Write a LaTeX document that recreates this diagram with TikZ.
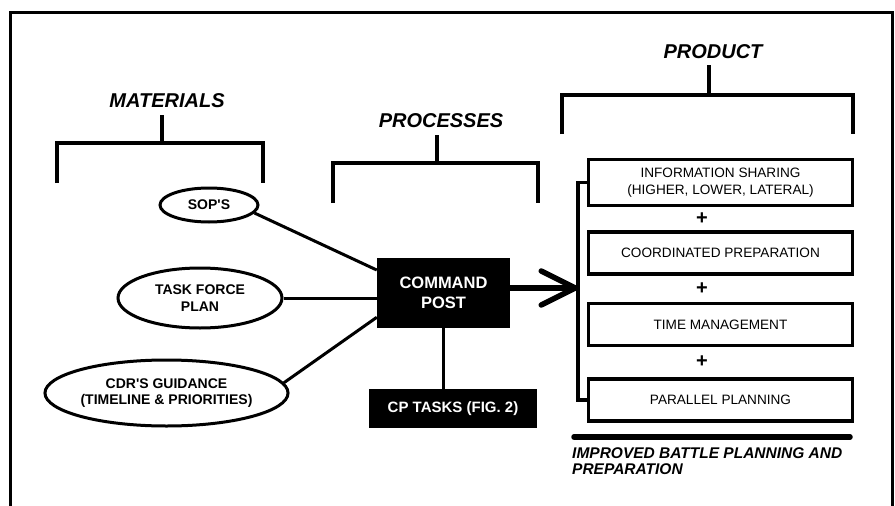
\documentclass[tikz,border=0pt]{standalone}
\usepackage{fontspec}
\setmainfont{Liberation Sans}
\usetikzlibrary{shapes.geometric,arrows.meta}
\begin{document}
\begin{tikzpicture}[x=1pt,y=-1pt,
  heading/.style={font=\fontsize{20}{21}\selectfont\bfseries\itshape, inner sep=0pt},
  bracket/.style={line width=4.5pt},
  oval/.style={ellipse, draw, line width=3pt, fill=white, inner sep=0pt, align=center,
    font=\fontsize{14}{16.5}\selectfont\bfseries},
  blackbox/.style={rectangle, fill=black, text=white, inner sep=0pt, align=center},
  prodbox/.style={rectangle, draw, line width=3.5pt, minimum width=264pt, minimum height=42pt,
    inner sep=0pt, align=center, font=\fontsize{13.6}{17}\selectfont},
  plus/.style={font=\fontsize{20}{20}\selectfont\bfseries, inner sep=0pt},
  link/.style={line width=3pt}]
\useasboundingbox (0,0) rectangle (895,506);
\fill[white] (0,0) rectangle (895,506);
\clip (0,0) rectangle (895,506);

% outer frame (open at the bottom)
\draw[line width=3pt] (10,520) -- (10,12) -- (892,12) -- (892,520);

% column headings with their brackets
\node[heading] (hmat) at (167,101) {MATERIALS};
\node[heading] (hproc) at (441,121) {PROCESSES};
\node[heading] (hprod) at (713,52) {PRODUCT};

\draw[bracket] (57,183) -- (57,143) -- (263,143) -- (263,183);
\draw[bracket] (162,143) -- (162,115);
\draw[bracket] (333,203) -- (333,163) -- (538,163) -- (538,203);
\draw[bracket] (437,163) -- (437,135);
\draw[bracket] (562,134) -- (562,95) -- (853,95) -- (853,134);
\draw[bracket] (709,95) -- (709,65);

% materials
\node[oval, minimum width=98pt, minimum height=34pt] (sop) at (209,205) {SOP\textquotesingle S};
\node[oval, minimum width=164pt, minimum height=60pt] (tfp) at (200,298) {TASK FORCE\\PLAN};
\node[oval, minimum width=243pt, minimum height=66pt] (cdr) at (166.5,393)
  {CDR\textquotesingle S GUIDANCE\\(TIMELINE \& PRIORITIES)};

% processes
\node[blackbox, minimum width=133pt, minimum height=70pt,
  font=\fontsize{16.5}{20}\selectfont\bfseries] (cp) at (443.5,293) {COMMAND\\POST};
\node[blackbox, minimum width=168pt, minimum height=39pt,
  font=\fontsize{15}{18}\selectfont\bfseries] (tasks) at (453,408.5) {CP TASKS (FIG. 2)};

\draw[link] (sop.-10) -- (cp.161);
\draw[link] (tfp.east) -- (tfp.east -| cp.west);
\draw[link] (cdr.5) -- (cp.200);
\draw[line width=2.2pt] (cp.south) -- (tasks.north -| cp.south);

% products
\node[prodbox, minimum height=46pt] (p1) at (720.5,182.5) {INFORMATION SHARING\\(HIGHER, LOWER, LATERAL)};
\node[prodbox] (p2) at (720.5,253) {COORDINATED PREPARATION};
\node[prodbox] (p3) at (720.5,324.5) {TIME MANAGEMENT};
\node[prodbox] (p4) at (720.5,400) {PARALLEL PLANNING};
\node[plus] (plus1) at (702,219) {+};
\node[plus] (plus2) at (702,289) {+};
\node[plus] (plus3) at (702,362) {+};

\draw[line width=3.5pt] (p1.west) -- ++(-9,0) |- (p4.west);
\coordinate (hit) at (578,288);
\draw[line width=5.5pt, -{Straight Barb[length=34pt,width=34pt,round]}] (cp.east |- hit) -- (hit);

% result
\draw[line width=5.5pt, line cap=round] (574,437) -- (850,437);
\node[anchor=north west, align=left, inner sep=0pt,
  font=\fontsize{15.5}{16}\selectfont\bfseries\itshape] (result) at (572,447)
  {IMPROVED BATTLE PLANNING AND\\PREPARATION};
\end{tikzpicture}
\end{document}
